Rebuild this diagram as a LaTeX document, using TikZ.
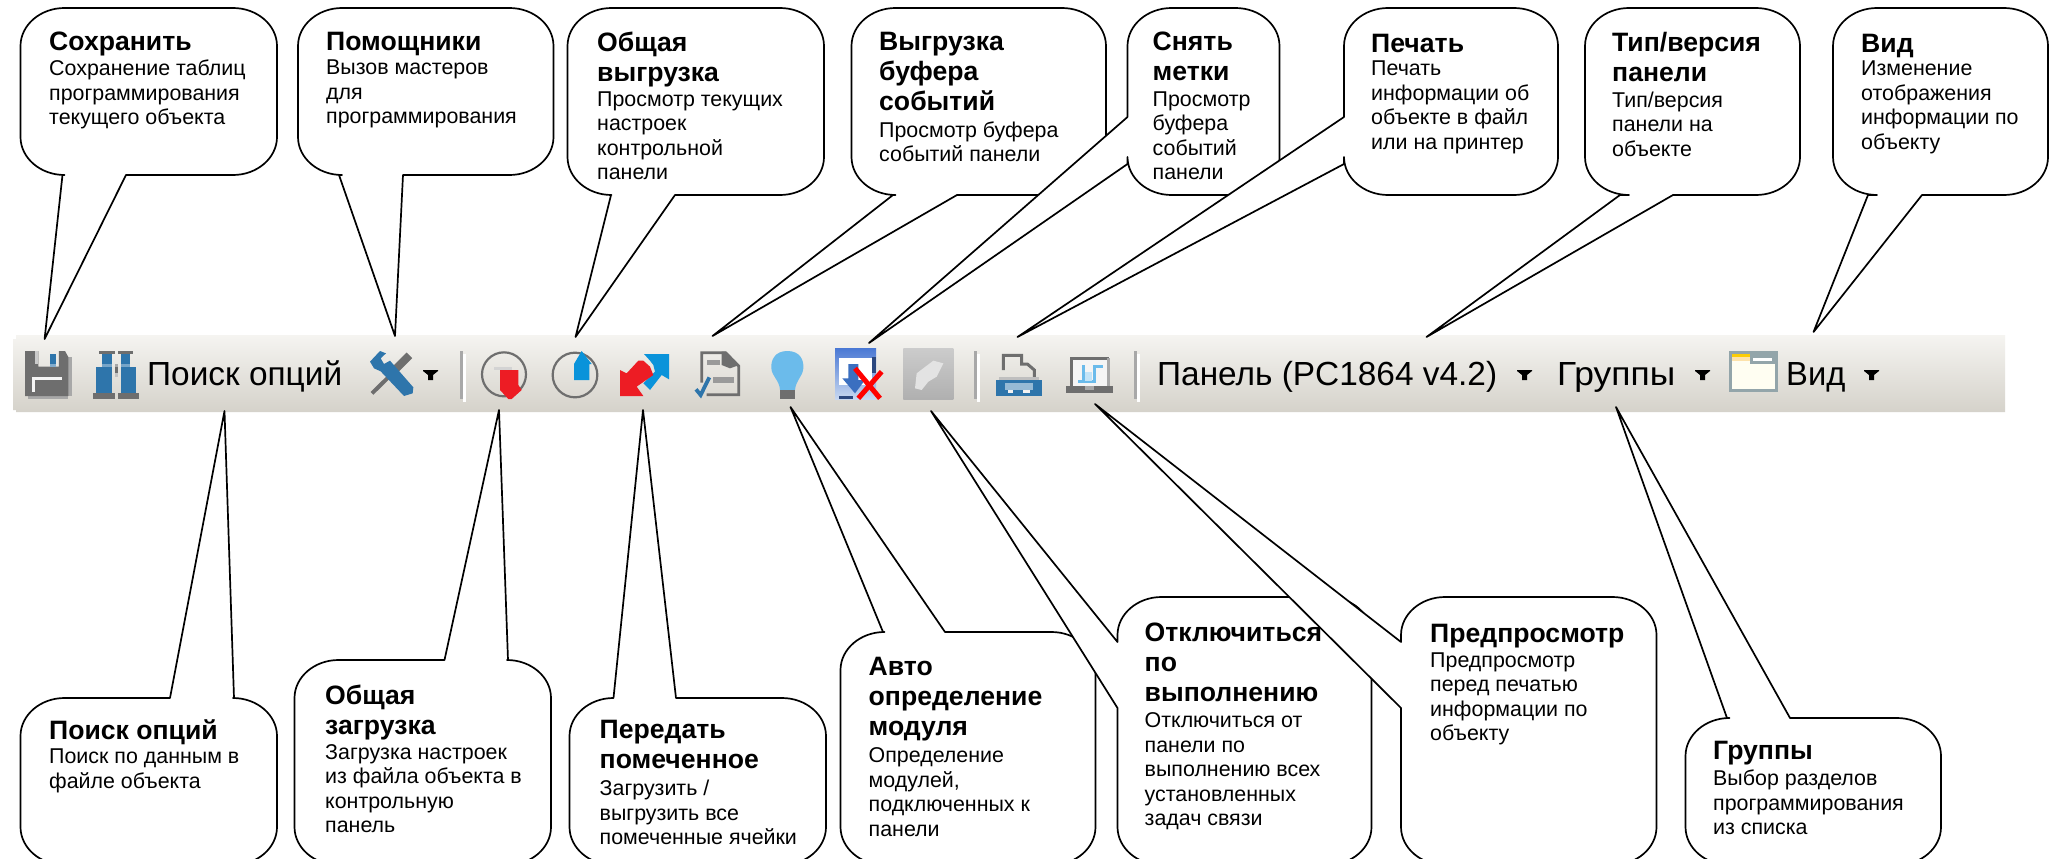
\documentclass[tikz,border=0pt]{standalone}
\usepackage{fontspec}
\setmainfont{Liberation Sans}
\definecolor{icgray}{HTML}{6E6E6E}
\definecolor{icblue}{HTML}{2E75AB}
\definecolor{skyblue}{HTML}{0A93DA}
\definecolor{lampblue}{HTML}{6BBBEB}
\definecolor{icred}{HTML}{ED1C24}
\definecolor{sepgray}{HTML}{A8A8A8}
\definecolor{folderline}{HTML}{93A5AA}
\definecolor{wintop}{HTML}{4A78D4}
\definecolor{winbot}{HTML}{C8D8F0}
\definecolor{winarrow}{HTML}{3B6FC0}
\newcommand{\rx}{44}
\newcommand{\ry}{38}
\newcommand{\bub}[7]{%
  \draw[bubble] ({#1+\rx},#2) #5 -- ({#3-\rx},#2)
    .. controls ({#3-.45*\rx},#2) and (#3,{#2+.45*\ry}) .. (#3,{#2+\ry})
    -- (#3,{#4-\ry})
    .. controls (#3,{#4-.45*\ry}) and ({#3-.45*\rx},#4) .. ({#3-\rx},#4)
    #6 -- ({#1+\rx},#4)
    .. controls ({#1+.45*\rx},#4) and (#1,{#4-.45*\ry}) .. (#1,{#4-\ry})
    #7 -- (#1,{#2+\ry})
    .. controls (#1,{#2+.45*\ry}) and ({#1+.45*\rx},#2) .. ({#1+\rx},#2) -- cycle;}
\newcommand{\lab}[7]{%
  \node[ttl] (t#1) at (#2,{#3+1.5-20}) {#6};
  \node[bdy] (b#1) at (#2,{#4+1-16}) {#7};}
\newcommand{\pxr}[5]{\fill[#1] (#2,#3) rectangle (#4,#5);}
\newcommand{\tri}[2]{\fill[black] (#1,#2) -- ({#1+15},#2) -- ({#1+15},{#2+1}) -- ({#1+10},{#2+5}) -- ({#1+10},{#2+10}) -- ({#1+5},{#2+10}) -- ({#1+5},{#2+5}) -- ({#1},{#2+1}) -- cycle;}
\tikzset{
  bubble/.style={draw=black,fill=white,line width=1.7pt,line join=round},
  ttl/.style={anchor=north west,inner sep=0pt,align=left,font=\fontsize{26.6}{30}\selectfont\bfseries,
    execute at begin node={\rule{0pt}{20pt}}},
  bdy/.style={anchor=north west,inner sep=0pt,align=left,font=\fontsize{21.4}{24.5}\selectfont,
    execute at begin node={\rule{0pt}{16pt}}},
  tbtext/.style={anchor=base west,inner sep=0pt,font=\fontsize{33.4}{36}\selectfont},
  zoomed/.style={x=.33333pt,y=-.33333pt}
}
\begin{document}
\begin{tikzpicture}[x=1pt,y=-1pt]
\useasboundingbox (0,0) rectangle (2054,859);
\clip (0,0) rectangle (2054,859);
\fill[white] (0,0) rectangle (2054,859);
% toolbar
\shade[top color={rgb,255:red,245;green,244;blue,241},bottom color={rgb,255:red,213;green,210;blue,202}]
  (16,335) -- (2005,335) -- (2005,412) -- (16,412) -- (16,410) -- (13,410) -- (13,339) -- (16,339) -- cycle;
% toolbar texts
\node[tbtext] (tsearch) at (147,385) {Поиск опций};
\node[tbtext] (tpanel) at (1157,385) {Панель (PC1864 v4.2)};
\node[tbtext] (tgroups) at (1557,385) {\scalebox{1.06}[1]{Группы}};
\node[tbtext] (tview) at (1786,385) {\scalebox{.98}[1]{Вид}};
\tri{423}{370}\tri{1517}{370}\tri{1695}{370}\tri{1864}{370}
% floppy + binoculars
\begin{scope}[shift={(15,340)},zoomed]
\pxr{sepgray}{160}{51}{171}{168}
\pxr{sepgray}{40}{160}{160}{177}
\fill[icgray] (30,33) -- (70,33) -- (70,80) -- (132,80) -- (132,33) -- (150,33) -- (160,51) -- (160,168) -- (30,168) -- cycle;
\pxr{sepgray!60}{60}{33}{70}{72}
\pxr{icblue}{105}{42}{123}{72}
\pxr{icblue!60}{105}{72}{123}{81}
\pxr{white!92!gray}{50}{110}{141}{120}
\pxr{white!92!gray}{50}{110}{60}{155}
\pxr{icgray}{252}{33}{300}{42}\pxr{icgray}{309}{33}{355}{42}
\pxr{icblue}{261}{42}{291}{72}\pxr{icblue}{318}{42}{346}{72}
\pxr{icblue!65}{261}{72}{291}{81}\pxr{icblue!65}{318}{72}{346}{81}
\pxr{icblue}{243}{81}{291}{159}\pxr{icblue}{318}{81}{363}{159}
\pxr{icgray}{234}{159}{300}{177}\pxr{icgray}{309}{159}{372}{177}
\pxr{icgray}{300}{81}{309}{99}\pxr{sepgray}{300}{72}{309}{81}\pxr{sepgray!70}{300}{99}{309}{110}
\end{scope}
% wrench, separator, circles, arrows
\begin{scope}[shift={(360,340)},zoomed]
\draw[icgray,line width=4pt] (36,160) -- (85,112);
\draw[icgray,line width=8pt] (108,86) -- (148,46);
\fill[icblue] (30,65) -- (60,33) -- (78,40) -- (62,55) -- (72,72) -- (90,62) -- (160,142) -- (158,160) -- (132,168) -- (62,94) -- (42,85) -- cycle;
\pxr{sepgray}{300}{33}{309}{177}\pxr{white}{309}{42}{318}{186}
\draw[icgray,line width=2.2pt] (432,103) circle[radius=66];
\pxr{sepgray!50}{402}{81}{457}{90}
\fill[icred] (420,90) -- (475,90) -- (475,135) -- (485,150) -- (455,177) -- (445,177) -- (420,150) -- cycle;
\draw[icgray,line width=2.2pt] (645,105) circle[radius=67];
\fill[skyblue] (642,120) -- (642,72) -- (665,33) -- (695,72) -- (688,72) -- (688,120) -- cycle;
\fill[skyblue] (852,42) -- (927,42) -- (927,118) -- (905,105) -- (870,150) -- (850,130) -- (885,95) -- (880,75) -- (870,62) -- cycle;
\fill[icred] (780,90) -- (800,100) -- (835,62) -- (850,62) -- (870,80) -- (880,105) -- (830,140) -- (850,168) -- (780,168) -- cycle;
\end{scope}
% doc, bulb, window, gray icon
\begin{scope}[shift={(680,340)},zoomed]
\draw[icgray,line width=2.8pt] (65,128) -- (65,38) -- (135,38) -- (176,78) -- (176,164) -- (80,164);
\fill[icgray] (125,35) -- (140,35) -- (178,75) -- (150,85) -- (125,75) -- cycle;
\pxr{icgray!70}{80}{60}{120}{75}
\pxr{icgray!70}{100}{112}{162}{128}
\draw[icblue,line width=3.8pt] (48,148) -- (62,165) -- (88,112);
\fill[lampblue] (322,33) .. controls (360,33) and (372,60) .. (370,85) .. controls (368,110) and (348,120) .. (345,150) -- (300,150) .. controls (298,120) and (276,110) .. (274,85) .. controls (272,60) and (285,33) .. (322,33) -- cycle;
\pxr{icgray}{300}{150}{345}{177}
\shade[top color=wintop,bottom color=winbot] (465,24) rectangle (588,177);
\pxr{white}{477}{55}{575}{135}
\pxr{wintop!60!black}{575}{50}{588}{100}
\pxr{wintop!60!black}{477}{168}{520}{177}
\fill[winarrow] (505,72) -- (535,72) -- (535,120) -- (555,120) -- (525,160) -- (487,115) -- (505,115) -- cycle;
\draw[red,line width=5pt] (525,85) -- (600,175);
\draw[red,line width=5pt] (605,95) -- (535,175);
\shade[top color=gray!40,bottom color=gray!62] (670,24) rectangle (820,177);
\fill[gray!22] (710,100) -- (760,62) -- (790,70) -- (770,110) -- (745,125) -- (725,150) -- (705,145) -- cycle;
\end{scope}
% separator, printer, preview, separator
\begin{scope}[shift={(970,340)},zoomed]
\pxr{sepgray}{12}{33}{21}{177}\pxr{white}{21}{42}{30}{186}
\draw[icgray,line width=3pt] (100,90) -- (100,46) -- (155,46) -- (155,72) -- (172,72) -- (193,90) -- (193,111);
\pxr{gray!50}{87}{111}{207}{120}
\pxr{icblue}{78}{120}{216}{168}
\pxr{icblue!50}{105}{128}{190}{150}
\pxr{white!90!gray}{115}{150}{130}{158}\pxr{white!90!gray}{160}{150}{180}{158}
\pxr{white!92!gray}{300}{50}{420}{140}
\draw[icgray,line width=3pt] (304,140) -- (304,55) -- (416,55);
\pxr{sepgray}{411}{55}{420}{140}
\pxr{icgray}{288}{138}{429}{159}
\pxr{sepgray}{345}{138}{372}{150}
\draw[lampblue,line width=3pt] (325,125) -- (372,125) -- (372,78) -- (400,78);
\draw[lampblue,line width=3pt] (340,122) -- (340,75);
\pxr{lampblue!40}{345}{95}{365}{122}
\pxr{sepgray}{492}{33}{501}{177}\pxr{white}{501}{42}{510}{186}
\end{scope}
% folder
\begin{scope}[shift={(1720,340)},zoomed]
\pxr{folderline}{27}{33}{173}{157}
\pxr{white!95!yellow}{36}{63}{164}{148}
\pxr{yellow!65!orange}{36}{42}{90}{50}
\pxr{yellow!30!orange!30}{36}{50}{90}{63}
\pxr{folderline}{90}{42}{173}{72}
\pxr{white}{100}{53}{155}{64}
\end{scope}
% tail tips
\coordinate (p1) at (44.6,339);
\coordinate (p2) at (395,336);
\coordinate (p3) at (575.5,337);
\coordinate (p4) at (712.5,336);
\coordinate (p5) at (869,343);
\coordinate (p6) at (1017.5,337);
\coordinate (p7) at (1426.5,337);
\coordinate (p8) at (1813.5,332);
\coordinate (q1) at (224.5,411);
\coordinate (q2) at (499,410);
\coordinate (q3) at (643,410);
\coordinate (q4) at (790.5,407);
\coordinate (q5) at (931,411);
\coordinate (q6) at (1095,404);
\coordinate (q7) at (1616,407);
% top row
\bub{20.5}{8}{277}{175}{}{-- (126,175) -- (p1) -- (62.5,175)}{}
\lab{1}{49}{49}{75}{}{Сохранить}{Сохранение таблиц\\программирования\\текущего объекта}
\bub{298}{8}{553.5}{175}{}{-- (403,175) -- (p2) -- (339,175)}{}
\lab{2}{326}{49}{75}{}{Помощники}{Вызов мастеров\\для\\программирования}
\bub{567.5}{8}{824}{195}{}{-- (675,195) -- (p3) -- (611,195)}{}
\begin{scope}
\clip (0,0) rectangle (2054,180);
\lab{3}{597}{50.5}{106.5}{}{Общая\\выгрузка}{Просмотр текущих\\настроек\\контрольной\\панели}
\end{scope}
\bub{851.5}{8}{1106}{195}{}{-- (957,195) -- (p4) -- (893,195)}{}
\lab{4}{879}{50.5}{136.5}{}{Выгрузка\\буфера\\событий}{Просмотр буфера\\событий панели}
\bub{1127.5}{8}{1279.5}{195}{}{}{-- (1127.5,164) -- (p5) -- (1127.5,117)}
\begin{scope}
\clip (0,0) rectangle (2054,180);
\lab{5}{1152.5}{50.5}{106.5}{}{Снять\\метки}{Просмотр\\буфера\\событий\\панели}
\end{scope}
\bub{1344}{8}{1558}{195}{}{}{-- (1344,164) -- (p6) -- (1344,117)}
\lab{6}{1371}{50.5}{76}{}{Печать}{Печать\\информации об\\объекте в файл\\или на принтер}
\bub{1585}{8}{1800}{195}{}{-- (1673,195) -- (p7) -- (1620,195)}{}
\lab{7}{1612}{50.5}{106.5}{}{Тип/версия\\панели}{Тип/версия\\панели на\\объекте}
\bub{1833}{8}{2048}{195}{}{-- (1922,195) -- (p8) -- (1868,195)}{}
\lab{8}{1861}{50.5}{76}{}{Вид}{Изменение\\отображения\\информации по\\объекту}
% bottom row
\bub{20.5}{698}{277}{865}{-- (170,698) -- (q1) -- (234,698)}{}{}
\lab{9}{49}{738}{764}{}{Поиск опций}{Поиск по данным в\\файле объекта}
\bub{294.5}{660}{551}{865}{-- (444.5,660) -- (q2) -- (508,660)}{}{}
\lab{10}{325}{703}{759}{}{Общая\\загрузка}{Загрузка настроек\\из файла объекта в\\контрольную\\панель}
\bub{569.5}{698}{826}{865}{-- (613.5,698) -- (q3) -- (676,698)}{}{}
\lab{11}{599.5}{738}{795}{}{Передать\\помеченное}{Загрузить /\\выгрузить все\\помеченные ячейки}
\bub{840.5}{632}{1095.5}{865}{-- (883,632) -- (q4) -- (945,632)}{}{}
\lab{12}{868.5}{675}{762.5}{}{Авто\\определение\\модуля}{Определение\\модулей,\\подключенных к\\панели}
\bub{1117.5}{597}{1371.5}{865}{}{}{-- (1117.5,708) -- (q5) -- (1117.5,642)}
\lab{13}{1144.5}{641}{727.5}{}{Отключиться\\по\\выполнению}{Отключиться от\\панели по\\выполнению всех\\установленных\\задач связи}
\bub{1401}{597}{1656.5}{865}{}{}{-- (1401,708) -- (q6) -- (1401,642)}
\lab{14}{1430}{641}{667.5}{}{Предпросмотр}{Предпросмотр\\перед печатью\\информации по\\объекту}
\bub{1685.5}{718}{1941}{865}{-- (1727,718) -- (q7) -- (1790,718)}{}{}
\lab{15}{1713}{758}{785}{}{Группы}{Выбор разделов\\программирования\\из списка}
\end{tikzpicture}
\end{document}
